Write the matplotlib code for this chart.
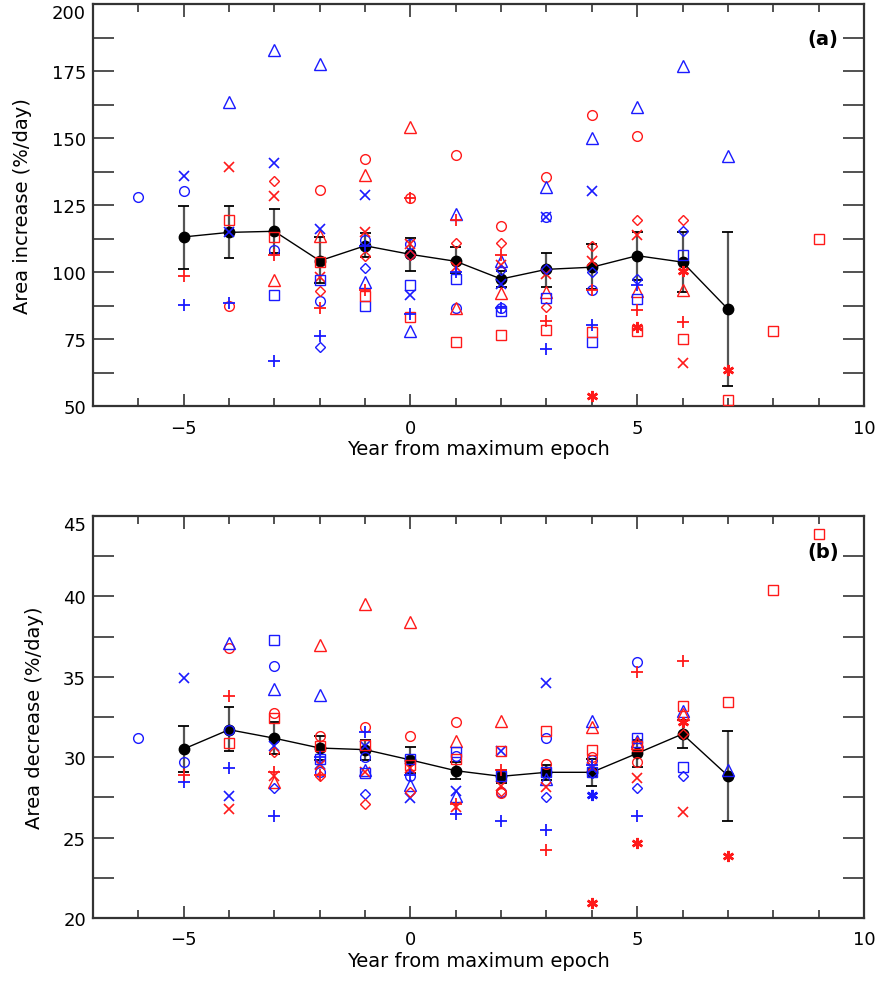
import numpy as np
import matplotlib
matplotlib.use('Agg')
import matplotlib.pyplot as plt
import matplotlib.transforms as mtransforms
from matplotlib.ticker import MultipleLocator, FuncFormatter

n = np.nan

# Years from maximum epoch (index of every series below)
years = np.arange(-6, 10)
mean_years = np.arange(-5, 8)

# ---------------- Panel (a): area increase (%/day) ----------------
a_blue_circle = [128.1, 130.1, n, 108.3, 89.3, 112.1, 110.5, 86.6, 86.5, 120.4, 93.3, n, n, n, n, n]
a_red_circle = [n, n, 87.2, n, 130.7, 142.1, 127.6, 143.8, 117.2, 135.6, 158.7, 150.9, n, n, n, n]
a_blue_triangle = [n, n, 163.3, 183.0, 177.5, 96.2, 77.9, 121.6, 104.2, 131.8, 150.0, 161.5, 176.7, 143.3, n, n]
a_red_triangle = [n, n, n, 97.2, 113.6, 136.2, 154.2, 86.5, 92.1, 92.4, n, 92.8, 93.3, n, n, n]
a_blue_x = [n, 135.9, 114.8, 140.7, 116.1, 128.9, 91.4, n, 95.5, 120.4, 130.1, n, n, n, n, n]
a_red_x = [n, n, 139.3, 128.5, 98.0, 114.8, 110.5, 102.0, 102.7, 99.3, 104.0, 113.9, 66.1, n, n, n]
a_blue_diamond = [n, n, n, n, 72.2, 101.4, 106.5, n, 100.9, 101.0, 99.9, 97.4, 115.4, n, n, n]
a_red_diamond = [n, n, n, 133.8, 93.0, 105.9, 106.2, 110.8, 110.8, 87.0, 109.9, 119.6, 119.4, n, n, n]
a_blue_square = [n, n, n, 91.5, 97.0, 87.2, 95.3, 97.4, 85.4, 90.3, 73.8, 90.0, 106.4, n, n, n]
a_red_square = [n, n, 119.5, 112.9, 103.6, 91.2, 83.1, 73.8, 76.5, 78.4, 77.5, 77.9, 75.0, 52.2, 78.1, 112.3]
a_blue_plus = [n, 87.8, 88.4, 66.9, 76.2, 109.8, 84.3, 99.9, 86.5, 71.3, 80.1, 95.3, n, n, n, n]
a_red_plus = [n, 98.4, n, 106.5, 86.6, 93.3, 127.6, 119.5, 106.5, 81.8, 93.3, 85.8, 81.5, n, n, n]
a_red_star = [n, n, n, n, n, n, n, n, n, n, 53.8, 79.4, 100.5, 63.4, n, n]

a_mean = [113.1, 114.8, 115.2, 104.2, 109.8, 106.6, 104.0, 97.4, 101.0, 101.8, 106.1, 103.7, 86.2]
a_err_lo = [101.1, 105.2, 107.0, 96.0, 105.5, 100.3, 99.5, 94.5, 94.5, 93.5, 97.0, 92.5, 57.6]
a_err_hi = [124.7, 124.5, 123.6, 112.9, 114.5, 112.7, 109.3, 100.5, 107.1, 110.3, 115.0, 114.9, 114.8]

# ---------------- Panel (b): area decrease (%/day) ----------------
b_blue_circle = [31.17, 29.72, 31.71, 35.69, 29.1, 29.99, 28.85, 30.1, 27.86, 31.17, 29.8, 35.94, n, n, n, n]
b_red_circle = [n, n, 36.8, 32.75, 31.3, 31.9, 31.34, 32.17, 27.8, 29.6, 29.99, 29.72, n, n, n, n]
b_blue_triangle = [n, n, 37.1, 34.24, 33.87, 29.2, 28.27, 27.6, n, 28.64, 32.23, 31.0, 32.9, 29.22, n, n]
b_red_triangle = [n, n, n, 28.44, 37.0, 39.53, 38.43, 30.99, 32.27, n, 31.86, 30.9, 32.7, n, n, n]
b_blue_x = [n, 34.9, 27.6, 30.68, 29.6, 30.7, 27.44, 27.88, 30.37, 34.6, 29.3, n, n, n, n, n]
b_red_x = [n, n, 26.78, 28.85, 29.5, 29.06, 29.3, 26.88, 28.23, 28.13, 29.37, 28.69, 26.57, n, n, n]
b_blue_diamond = [n, n, n, 28.1, n, 27.69, n, n, n, 27.55, 29.0, 28.07, 28.85, n, n, n]
b_red_diamond = [n, n, n, 30.30, 28.81, 27.09, 27.82, n, 27.9, n, n, n, 31.44, n, n, n]
b_blue_square = [n, n, n, 37.31, 29.89, 29.0, 29.89, 30.30, 28.85, 29.06, 29.06, 31.19, 29.41, n, n, n]
b_red_square = [n, n, 30.88, 32.42, 30.68, 30.78, 29.53, 29.89, 30.37, 31.65, 30.47, 30.68, 33.16, 33.45, 40.4, 43.88]
b_blue_plus = [n, 28.48, 29.33, 26.36, 30.0, 31.55, 28.9, 26.47, 26.05, 25.47, 29.5, 26.32, n, n, n, n]
b_red_plus = [n, 28.89, 33.82, 29.06, 28.9, n, n, 27.1, 29.22, 24.25, n, 35.32, 35.96, n, n, n]
b_red_star = [n, n, n, n, n, n, n, n, n, n, 20.91, 24.65, 32.2, 23.84, n, n]
b_blue_star = [n, n, n, n, n, n, n, n, n, n, 27.67, n, n, n, n, n]

b_mean = [30.51, 31.71, 31.18, 30.57, 30.47, 29.83, 29.16, 28.81, 29.06, 29.06, 30.24, 31.44, 28.85]
b_err_lo = [29.05, 30.37, 30.2, 29.8, 29.8, 29.0, 28.64, 28.4, 28.6, 28.23, 29.37, 30.57, 26.05]
b_err_hi = [31.96, 33.1, 32.17, 31.34, 31.1, 30.65, 29.7, 29.2, 29.5, 29.9, 31.1, 32.3, 31.61]

BLUE = '#1a1aff'
RED = '#ff1a1a'
ASTER = (6, 2, 0)

# marker styles: (marker, size, edge width)
STY = {
    'circle': ('o', 7, 1.0),
    'triangle': ('^', 8, 1.0),
    'x': ('x', 7, 1.2),
    'diamond': ('D', 5.5, 1.0),
    'square': ('s', 7, 1.0),
    'plus': ('+', 8, 1.3),
    'star': (ASTER, 8, 1.8),
}

series_a = [
    (a_blue_circle, 'circle', BLUE), (a_red_circle, 'circle', RED),
    (a_blue_triangle, 'triangle', BLUE), (a_red_triangle, 'triangle', RED),
    (a_blue_x, 'x', BLUE), (a_red_x, 'x', RED),
    (a_blue_diamond, 'diamond', BLUE), (a_red_diamond, 'diamond', RED),
    (a_blue_square, 'square', BLUE), (a_red_square, 'square', RED),
    (a_blue_plus, 'plus', BLUE), (a_red_plus, 'plus', RED),
    (a_red_star, 'star', RED),
]
series_b = [
    (b_blue_circle, 'circle', BLUE), (b_red_circle, 'circle', RED),
    (b_blue_triangle, 'triangle', BLUE), (b_red_triangle, 'triangle', RED),
    (b_blue_x, 'x', BLUE), (b_red_x, 'x', RED),
    (b_blue_diamond, 'diamond', BLUE), (b_red_diamond, 'diamond', RED),
    (b_blue_square, 'square', BLUE), (b_red_square, 'square', RED),
    (b_blue_plus, 'plus', BLUE), (b_red_plus, 'plus', RED),
    (b_red_star, 'star', RED), (b_blue_star, 'star', BLUE),
]

fig = plt.figure(figsize=(8.8, 9.87), dpi=100)
ax_a = fig.add_axes([0.1057, 0.5876, 0.876, 0.4073])
ax_b = fig.add_axes([0.1057, 0.0689, 0.876, 0.4073])


def desenhar(ax, series, mean, lo, hi, ylim, ymaj, ymin, ylabel, tag, tag_y):
    mean = np.array(mean)
    # error bars + mean curve
    ax.vlines(mean_years, lo, hi, colors='#555555', linewidth=1.6, zorder=2)
    ax.hlines(lo, mean_years - 0.12, mean_years + 0.12, colors='black', linewidth=1.3, zorder=2)
    ax.hlines(hi, mean_years - 0.12, mean_years + 0.12, colors='black', linewidth=1.3, zorder=2)
    ax.plot(mean_years, mean, color='black', linewidth=1.0, zorder=2)
    ax.plot(mean_years, mean, 'o', color='black', markersize=7.5, zorder=3)

    for vals, kind, cor in series:
        m, ms, mew = STY[kind]
        ax.plot(years, vals, linestyle='none', marker=m, markersize=ms,
                markeredgewidth=mew, markeredgecolor=cor, markerfacecolor='none',
                color=cor, zorder=4)

    ax.set_xlim(-7, 10)
    ax.set_ylim(*ylim)
    ax.xaxis.set_major_locator(MultipleLocator(5))
    ax.xaxis.set_minor_locator(MultipleLocator(1))
    ax.xaxis.set_major_formatter(FuncFormatter(lambda v, p: ('%d' % v).replace('-', '\u2212')))
    ax.yaxis.set_major_locator(MultipleLocator(ymaj))
    ax.yaxis.set_minor_locator(MultipleLocator(ymin))
    # top value is written by hand below, so it stays inside the figure
    ax.yaxis.set_major_formatter(FuncFormatter(
        lambda v, p: '' if abs(v - ylim[1]) < 1e-6 else '%d' % v))
    ax.tick_params(which='both', direction='in', top=True, right=True,
                   labelsize=13, color='#333333')
    ax.tick_params(axis='x', which='major', length=9, width=1.2, pad=9)
    ax.tick_params(axis='x', which='minor', length=6, width=1.2)
    ax.tick_params(axis='y', which='both', length=15, width=1.2, pad=5)
    for sp in ax.spines.values():
        sp.set_linewidth(1.6)
        sp.set_color('#333333')
    trans = mtransforms.blended_transform_factory(ax.transAxes, ax.transData)
    ax.text(-0.009, ylim[1], '%d' % ylim[1], transform=trans, fontsize=13,
            ha='right', va='top')
    ax.set_xlabel('Year from maximum epoch', fontsize=14, labelpad=2)
    ax.set_ylabel(ylabel, fontsize=14, labelpad=14)
    ax.text(9.1, tag_y, tag, fontsize=14, fontweight='bold', ha='center', va='center')


desenhar(ax_a, series_a, a_mean, a_err_lo, a_err_hi, (50, 200), 25, 12.5,
         'Area increase (%/day)', '(a)', 187.3)
desenhar(ax_b, series_b, b_mean, b_err_lo, b_err_hi, (20, 45), 5, 2.5,
         'Area decrease (%/day)', '(b)', 42.8)

plt.savefig('out.png', dpi=100, facecolor='white')
plt.close()
